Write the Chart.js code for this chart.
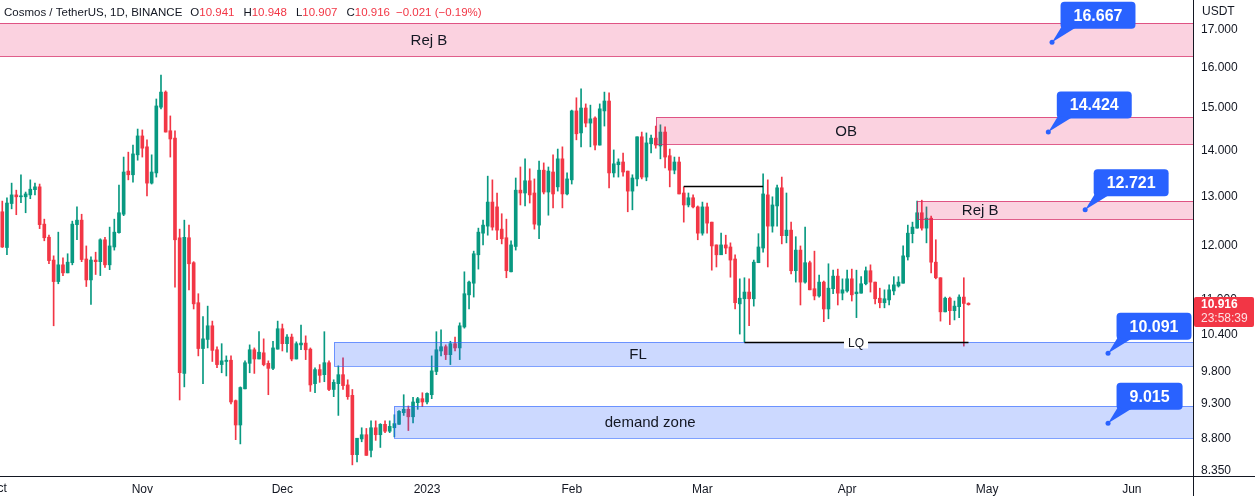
<!DOCTYPE html>
<html><head><meta charset="utf-8">
<script src="https://cdn.jsdelivr.net/npm/chart.js@4.4.0/dist/chart.umd.min.js"></script>
<style>
html,body{margin:0;padding:0;background:#fff;}
canvas{display:block}
</style></head><body>
<canvas id="c" width="1255" height="496"></canvas>
<script>
// ---------- DATA ----------
const startDate = '2022-10-02';
const open = [12.68,11.97,12.85,13.03,12.99,12.99,13.03,13.14,13.20,12.43,12.17,11.73,11.33,11.64,11.49,11.68,12.42,12.51,11.75,11.36,11.73,11.70,12.12,11.64,11.98,12.26,12.63,13.54,13.46,13.90,14.33,14.08,13.28,13.50,15.01,15.38,14.45,14.28,12.16,9.77,12.16,11.68,10.95,10.17,10.32,10.55,10.15,9.91,9.96,9.98,9.35,8.99,9.53,9.93,10.15,10.00,10.10,9.93,9.85,10.16,10.50,10.25,10.36,10.00,10.23,10.26,10.16,9.61,9.83,9.75,9.94,9.52,9.61,9.75,9.59,9.43,8.57,8.79,8.85,8.63,8.95,8.85,9.00,8.90,8.95,9.00,9.17,9.22,9.11,9.32,9.38,9.33,9.44,9.80,10.13,10.20,10.07,10.25,10.18,10.53,11.09,11.30,11.83,12.25,12.39,12.88,12.78,12.33,12.16,11.51,11.99,13.13,13.07,13.33,13.07,12.41,13.56,13.09,13.52,13.20,13.81,13.05,13.35,14.92,14.40,14.99,14.63,14.75,14.12,14.92,15.16,13.50,13.68,13.74,13.54,13.11,13.37,14.31,13.41,14.15,14.28,14.10,14.42,13.88,13.56,13.74,13.07,12.82,12.97,12.78,12.25,12.78,12.47,12.02,11.83,12.02,11.98,11.75,10.93,11.02,11.14,11.02,11.68,11.96,13.03,12.39,12.80,13.18,12.20,12.31,11.53,11.92,11.32,11.68,11.20,11.07,11.32,10.84,11.20,11.43,11.12,11.16,11.38,11.11,11.12,11.29,11.53,11.32,11.03,10.95,11.00,11.16,11.25,11.30,11.79,12.24,12.35,12.66,12.35,12.55,11.69,11.40,10.79,11.03,10.81,10.88,11.05,10.941];
const high = [12.90,12.97,13.28,13.13,13.46,13.09,13.35,13.28,13.26,12.53,12.21,11.81,12.27,11.77,11.85,12.49,12.78,12.63,12.00,11.79,11.88,12.14,12.17,12.37,12.53,13.24,13.85,13.96,14.12,14.49,14.47,14.24,13.90,15.21,15.81,15.41,14.80,14.45,12.33,12.51,12.41,11.70,11.11,10.71,10.89,10.63,10.20,10.25,10.05,10.05,9.36,9.56,9.97,10.23,10.18,10.45,10.33,9.97,10.29,10.63,10.58,10.40,10.41,10.28,10.56,10.38,10.18,9.86,9.91,10.45,9.97,9.67,9.89,10.02,9.67,9.52,8.80,8.95,8.94,9.05,9.05,9.01,9.05,9.05,9.14,9.20,9.44,9.27,9.40,9.40,9.47,9.47,10.05,10.45,10.48,10.23,10.29,10.36,10.60,11.51,11.34,11.90,12.35,12.51,13.43,13.35,13.07,12.64,12.53,12.10,13.39,13.63,13.81,13.59,13.37,13.76,13.72,13.63,13.90,14.03,14.08,13.50,14.94,15.24,15.46,15.09,15.06,14.78,15.09,15.38,15.36,14.01,13.81,13.94,13.54,13.46,14.31,14.42,14.40,14.35,14.56,14.59,14.54,14.03,13.85,13.85,13.20,13.07,13.03,12.80,12.88,12.86,12.47,12.02,12.25,12.21,12.06,11.83,11.38,11.40,11.38,11.73,12.24,13.48,13.35,12.99,13.24,13.41,13.07,12.47,12.18,12.00,12.37,11.71,11.90,11.45,11.34,11.66,11.54,11.56,11.38,11.54,11.56,11.54,11.42,11.60,11.64,11.32,11.21,11.18,11.27,11.42,11.42,12.00,12.41,12.47,12.90,12.92,12.78,12.59,12.12,11.40,11.05,11.05,10.98,11.09,11.40,10.948];
const low = [11.97,11.83,12.74,12.62,12.87,12.66,12.95,13.03,12.34,12.10,11.66,10.55,11.29,11.44,11.49,11.64,12.12,11.70,11.24,10.92,11.46,11.44,11.59,11.55,11.92,12.25,12.60,13.35,13.30,13.78,13.85,13.01,13.26,13.41,14.97,14.42,13.85,11.23,9.36,9.56,11.18,10.84,10.05,9.61,10.18,9.96,9.86,9.78,9.73,9.30,8.78,8.72,9.53,9.78,9.77,10.00,9.89,9.44,9.83,10.16,10.13,10.11,9.97,10.00,10.15,9.99,9.49,9.47,9.63,9.64,9.50,9.41,9.13,9.52,9.37,8.43,8.47,8.75,8.56,8.54,8.77,8.67,8.88,8.88,8.82,9.00,9.13,8.91,9.02,9.22,9.26,9.30,9.38,9.75,10.05,9.99,9.91,10.13,9.99,10.51,10.84,11.05,11.56,12.02,12.21,12.31,12.12,12.04,11.40,11.51,11.92,12.82,12.80,12.86,12.33,12.14,13.05,12.61,12.76,13.11,12.76,13.03,13.26,14.24,14.08,14.54,14.08,14.01,14.12,14.56,13.18,13.41,13.41,13.43,12.68,12.72,13.22,13.37,13.33,13.94,14.05,13.81,13.61,13.20,13.48,13.05,12.47,12.78,12.76,12.12,12.21,12.25,11.54,11.60,11.83,11.85,11.41,10.84,10.41,10.28,10.55,10.89,11.68,11.88,11.60,12.27,12.39,12.04,12.06,11.47,11.32,10.91,11.30,11.18,11.00,11.05,10.62,10.67,11.11,10.91,11.00,11.14,10.98,10.69,11.12,11.27,11.14,10.93,10.86,10.86,10.91,11.09,11.23,11.30,11.73,12.06,12.35,12.31,12.06,11.49,11.38,10.63,10.79,10.57,10.65,10.69,10.21,10.907];
const close = [11.98,12.86,13.03,12.99,13.01,13.05,13.15,13.20,12.42,12.16,11.72,11.33,11.64,11.49,11.69,12.43,12.51,11.74,11.36,11.73,11.70,12.12,11.64,12.00,12.27,12.66,13.52,13.46,13.92,14.33,14.05,13.28,13.52,15.04,15.38,14.42,14.26,12.12,9.78,12.17,11.66,10.93,10.17,10.33,10.55,10.14,9.91,9.97,9.98,9.33,8.99,9.55,9.94,10.15,10.00,10.11,9.91,9.85,10.18,10.50,10.25,10.36,10.00,10.25,10.26,10.15,9.59,9.83,9.74,9.94,9.52,9.63,9.75,9.58,9.41,8.57,8.80,8.85,8.56,8.95,8.85,9.00,8.90,8.97,9.01,9.19,9.22,9.11,9.33,9.38,9.33,9.46,9.81,10.15,10.20,10.07,10.25,10.18,10.55,11.11,11.32,11.85,12.27,12.41,12.88,12.37,12.31,12.14,11.53,12.02,13.13,13.07,13.33,13.03,12.43,13.56,13.09,13.54,13.05,13.81,13.05,13.37,14.92,14.38,14.99,14.63,14.73,14.12,14.97,15.16,13.50,13.70,13.74,13.52,13.11,13.39,14.31,13.41,14.17,14.28,14.12,14.42,13.85,13.56,13.74,13.05,12.82,12.97,12.78,12.25,12.78,12.45,12.00,11.83,12.02,11.96,11.73,10.95,11.03,11.14,11.02,11.69,11.98,13.05,12.39,12.82,13.18,12.20,12.31,11.53,11.92,11.32,11.68,11.18,11.07,11.32,10.84,11.21,11.43,11.12,11.18,11.38,11.09,11.14,11.29,11.53,11.32,11.02,10.95,11.02,11.18,11.27,11.32,11.81,12.25,12.37,12.66,12.35,12.55,11.69,11.40,10.79,11.03,10.81,10.89,11.05,10.937,10.916];

const monthLabels = ['Oct','Nov','Dec','2023','Feb','Mar','Apr','May','Jun'];
const monthDates  = ['2022-10-01','2022-11-01','2022-12-01','2023-01-01','2023-02-01','2023-03-01','2023-04-01','2023-05-01','2023-06-01'];
const priceTicks  = [17, 16, 15, 14, 13, 12, 11, 10.4, 9.8, 9.3, 8.8, 8.35];

// rectangles drawn on the chart (day offsets from 2022-11-01, prices)
const zoneNames    = ['Rej B', 'OB', 'Rej B', 'FL', 'demand zone'];
const zoneKinds    = ['supply', 'supply', 'supply', 'demand', 'demand'];
const zoneStartDay = [-102, 110, 166, 41, 54];
const zoneLabelDay = [61.4, 150.8, 179.5, 106.2, 108.8];
const zoneTop      = [17.19, 14.775, 12.90, 10.278, 9.27];
const zoneBottom   = [16.30, 14.145, 12.53, 9.888, 8.80];

// horizontal lines
const lineStartDay = [116, 129];
const lineEndDay   = [133, 177];
const linePrice    = [13.21, 10.28];
const lineLabels   = ['', 'LQ'];
const lineLabelDay = [0, 152.9];

// price callouts
const calloutText  = ['16.667', '14.424', '12.721', '10.091', '9.015'];
const calloutDay   = [194.9, 194.1, 202.0, 206.9, 206.9];
const calloutPrice = [16.667, 14.424, 12.721, 10.091, 9.015];

const symbolTitle = 'Cosmos / TetherUS, 1D, BINANCE';
const countdown = '23:58:39';

// ---------- HELPERS ----------
const DAY0 = Date.UTC(2022, 10, 1);
function dayOf(s){ const p = s.split('-').map(Number); return (Date.UTC(p[0], p[1]-1, p[2]) - DAY0) / 86400000; }
const firstDay = dayOf(startDate);
const days = open.map((_, i) => firstDay + i);
const GREEN = '#089981', RED = '#F23645', TEXT = '#131722';
const colors = open.map((o, i) => close[i] >= o ? GREEN : RED);
const wickData = days.map((d, i) => ({x: d, y: [low[i], high[i]]}));
const bodyData = days.map((d, i) => ({x: d, y: [open[i], close[i]]}));
const FONT = '"Liberation Sans", Arial, sans-serif';

function roundRect(ctx, x, y, w, h, r){
  ctx.beginPath();
  ctx.moveTo(x + r, y); ctx.lineTo(x + w - r, y); ctx.quadraticCurveTo(x + w, y, x + w, y + r);
  ctx.lineTo(x + w, y + h - r); ctx.quadraticCurveTo(x + w, y + h, x + w - r, y + h);
  ctx.lineTo(x + r, y + h); ctx.quadraticCurveTo(x, y + h, x, y + h - r);
  ctx.lineTo(x, y + r); ctx.quadraticCurveTo(x, y, x + r, y); ctx.closePath();
}

const overlay = {
  id: 'overlay',
  afterDatasetsDraw(chart){
    const {ctx, chartArea: a, scales: {x: xs, y: ys}} = chart;
    ctx.save();
    ctx.beginPath(); ctx.rect(a.left, a.top, a.right - a.left, a.bottom - a.top); ctx.clip();
    // zones
    zoneNames.forEach((name, i) => {
      const x0 = Math.round(xs.getPixelForValue(zoneStartDay[i]));
      const x1 = a.right + 2;
      const y0 = Math.round(ys.getPixelForValue(zoneTop[i]));
      const y1 = Math.round(ys.getPixelForValue(zoneBottom[i]));
      const supply = zoneKinds[i] === 'supply';
      ctx.fillStyle = supply ? 'rgba(233,30,99,0.2)' : 'rgba(41,98,255,0.24)';
      ctx.fillRect(x0, y0, x1 - x0, y1 - y0);
      ctx.strokeStyle = supply ? 'rgba(214,40,100,0.75)' : 'rgba(41,98,255,0.6)';
      ctx.lineWidth = 1;
      ctx.strokeRect(x0 + 0.5, y0 + 0.5, x1 - x0, y1 - y0);
      ctx.fillStyle = TEXT;
      ctx.font = '15px ' + FONT;
      ctx.textAlign = 'center'; ctx.textBaseline = 'middle';
      ctx.fillText(name, xs.getPixelForValue(zoneLabelDay[i]), (y0 + y1) / 2 + 1);
    });
    // lines
    linePrice.forEach((p, i) => {
      const y = Math.round(ys.getPixelForValue(p)) + 0.5;
      const x0 = xs.getPixelForValue(lineStartDay[i]), x1 = xs.getPixelForValue(lineEndDay[i]);
      ctx.strokeStyle = '#000'; ctx.lineWidth = 1.5;
      ctx.beginPath(); ctx.moveTo(x0, y); ctx.lineTo(x1, y); ctx.stroke();
      if (lineLabels[i]) {
        ctx.font = '12px ' + FONT;
        const lx = xs.getPixelForValue(lineLabelDay[i]);
        const w = ctx.measureText(lineLabels[i]).width + 8;
        ctx.fillStyle = '#fff'; ctx.fillRect(lx - w / 2, y - 6, w, 12);
        ctx.fillStyle = TEXT; ctx.textAlign = 'center'; ctx.textBaseline = 'middle';
        ctx.fillText(lineLabels[i], lx, y + 1);
      }
    });
    ctx.restore();
    // callouts
    ctx.save();
    calloutText.forEach((t, i) => {
      const x = xs.getPixelForValue(calloutDay[i]), y = ys.getPixelForValue(calloutPrice[i]);
      ctx.font = 'bold 16px ' + FONT;
      const w = ctx.measureText(t).width + 26, h = 27;
      const bx = x + 8.5, by = y - 40.5;
      ctx.fillStyle = '#2962FF';
      roundRect(ctx, bx, by, w, h, 4); ctx.fill();
      ctx.beginPath(); ctx.moveTo(x, y); ctx.lineTo(bx + 1, by + h - 2); ctx.lineTo(bx + 15, by + h - 1); ctx.closePath(); ctx.fill();
      ctx.beginPath(); ctx.arc(x, y, 2.5, 0, Math.PI * 2); ctx.fill();
      ctx.fillStyle = '#fff'; ctx.textAlign = 'center'; ctx.textBaseline = 'middle';
      ctx.fillText(t, bx + w / 2, by + h / 2 + 1);
    });
    ctx.restore();
  },
  afterDraw(chart){
    const {ctx, chartArea: a, scales: {x: xs, y: ys}} = chart;
    const n = close.length - 1;
    ctx.save();
    // axis area below the time axis line (clips the lowest price label)
    ctx.fillStyle = '#fff';
    ctx.fillRect(a.right + 1, a.bottom, chart.width - a.right, chart.height - a.bottom);
    ctx.strokeStyle = TEXT; ctx.lineWidth = 1;
    ctx.beginPath();
    ctx.moveTo(0, Math.round(a.bottom) + 0.5); ctx.lineTo(chart.width, Math.round(a.bottom) + 0.5);
    ctx.moveTo(Math.round(a.right) + 0.5, 0); ctx.lineTo(Math.round(a.right) + 0.5, chart.height);
    ctx.stroke();
    // first month label partially off the left edge
    ctx.font = '12px ' + FONT; ctx.fillStyle = TEXT; ctx.textAlign = 'center'; ctx.textBaseline = 'middle';
    ctx.fillText(monthLabels[0], xs.getPixelForValue(dayOf(monthDates[0])), a.bottom + 13);
    // currency
    ctx.textAlign = 'left';
    ctx.fillText('USDT', a.right + 9, 12);
    // last price label
    const py = ys.getPixelForValue(close[n]);
    ctx.fillStyle = RED;
    roundRect(ctx, a.right + 1, Math.round(py) - 8, 60, 30, 2); ctx.fill();
    ctx.fillStyle = '#fff'; ctx.font = 'bold 12px ' + FONT;
    ctx.fillText(close[n].toFixed(3), a.right + 8, py);
    ctx.font = '12px ' + FONT; ctx.fillStyle = 'rgba(255,255,255,0.85)';
    ctx.fillText(countdown, a.right + 8, py + 14);
    // header
    const chg = close[n] - close[n - 1];
    const pct = chg / close[n - 1] * 100;
    const fmt = v => (v < 0 ? '\u2212' : '+') + Math.abs(v).toFixed(3);
    const segs = [
      [symbolTitle, TEXT, 0], ['O', TEXT, 8], [open[n].toFixed(3), RED, 0],
      ['H', TEXT, 9], [high[n].toFixed(3), RED, 0], ['L', TEXT, 9], [low[n].toFixed(3), RED, 0],
      ['C', TEXT, 9], [close[n].toFixed(3), RED, 0],
      [fmt(chg) + ' (' + (pct < 0 ? '\u2212' : '+') + Math.abs(pct).toFixed(2) + '%)', RED, 6]
    ];
    ctx.font = '11.5px ' + FONT; ctx.textAlign = 'left'; ctx.textBaseline = 'middle';
    let hx = 4;
    segs.forEach(s => { hx += s[2]; ctx.fillStyle = s[1]; ctx.fillText(s[0], hx, 13); hx += ctx.measureText(s[0]).width; });
    ctx.restore();
  }
};

new Chart(document.getElementById('c'), {
  type: 'bar',
  data: {datasets: [
    {data: wickData, backgroundColor: colors, barThickness: 1, grouped: false, order: 2, minBarLength: 1, borderWidth: 0},
    {data: bodyData, backgroundColor: colors, barThickness: 3, grouped: false, order: 1, minBarLength: 1, borderWidth: 0}
  ]},
  options: {
    responsive: false, animation: false, devicePixelRatio: 1,
    layout: {padding: 0},
    plugins: {legend: {display: false}, tooltip: {enabled: false}},
    scales: {
      x: {
        type: 'linear', position: 'bottom', offset: false,
        min: -30.49, max: 225.1,
        grid: {display: false, drawTicks: false, offset: false},
        border: {display: true, color: TEXT, width: 1},
        afterBuildTicks: s => { s.ticks = monthDates.map(d => ({value: dayOf(d)})).filter(t => t.value >= s.min && t.value <= s.max); },
        ticks: {autoSkip: false, maxRotation: 0, padding: 6, color: TEXT, font: {size: 12, family: FONT},
          callback: v => { const k = monthDates.findIndex(d => dayOf(d) === v); return k >= 0 ? monthLabels[k] : ''; }},
        afterFit: s => { s.height = 20; s.paddingLeft = 0; s.paddingRight = 0; }
      },
      y: {
        type: 'logarithmic', position: 'right',
        min: 8.28, max: 17.843,
        grid: {display: false, drawTicks: false},
        border: {display: true, color: TEXT, width: 1},
        afterBuildTicks: s => { s.ticks = priceTicks.map(v => ({value: v})); },
        ticks: {autoSkip: false, padding: 8, color: TEXT, font: {size: 12, family: FONT}, callback: v => Number(v).toFixed(3)},
        afterFit: s => { s.width = 62; s.paddingTop = 0; s.paddingBottom = 0; }
      }
    }
  },
  plugins: [overlay]
});
</script>
</body></html>
